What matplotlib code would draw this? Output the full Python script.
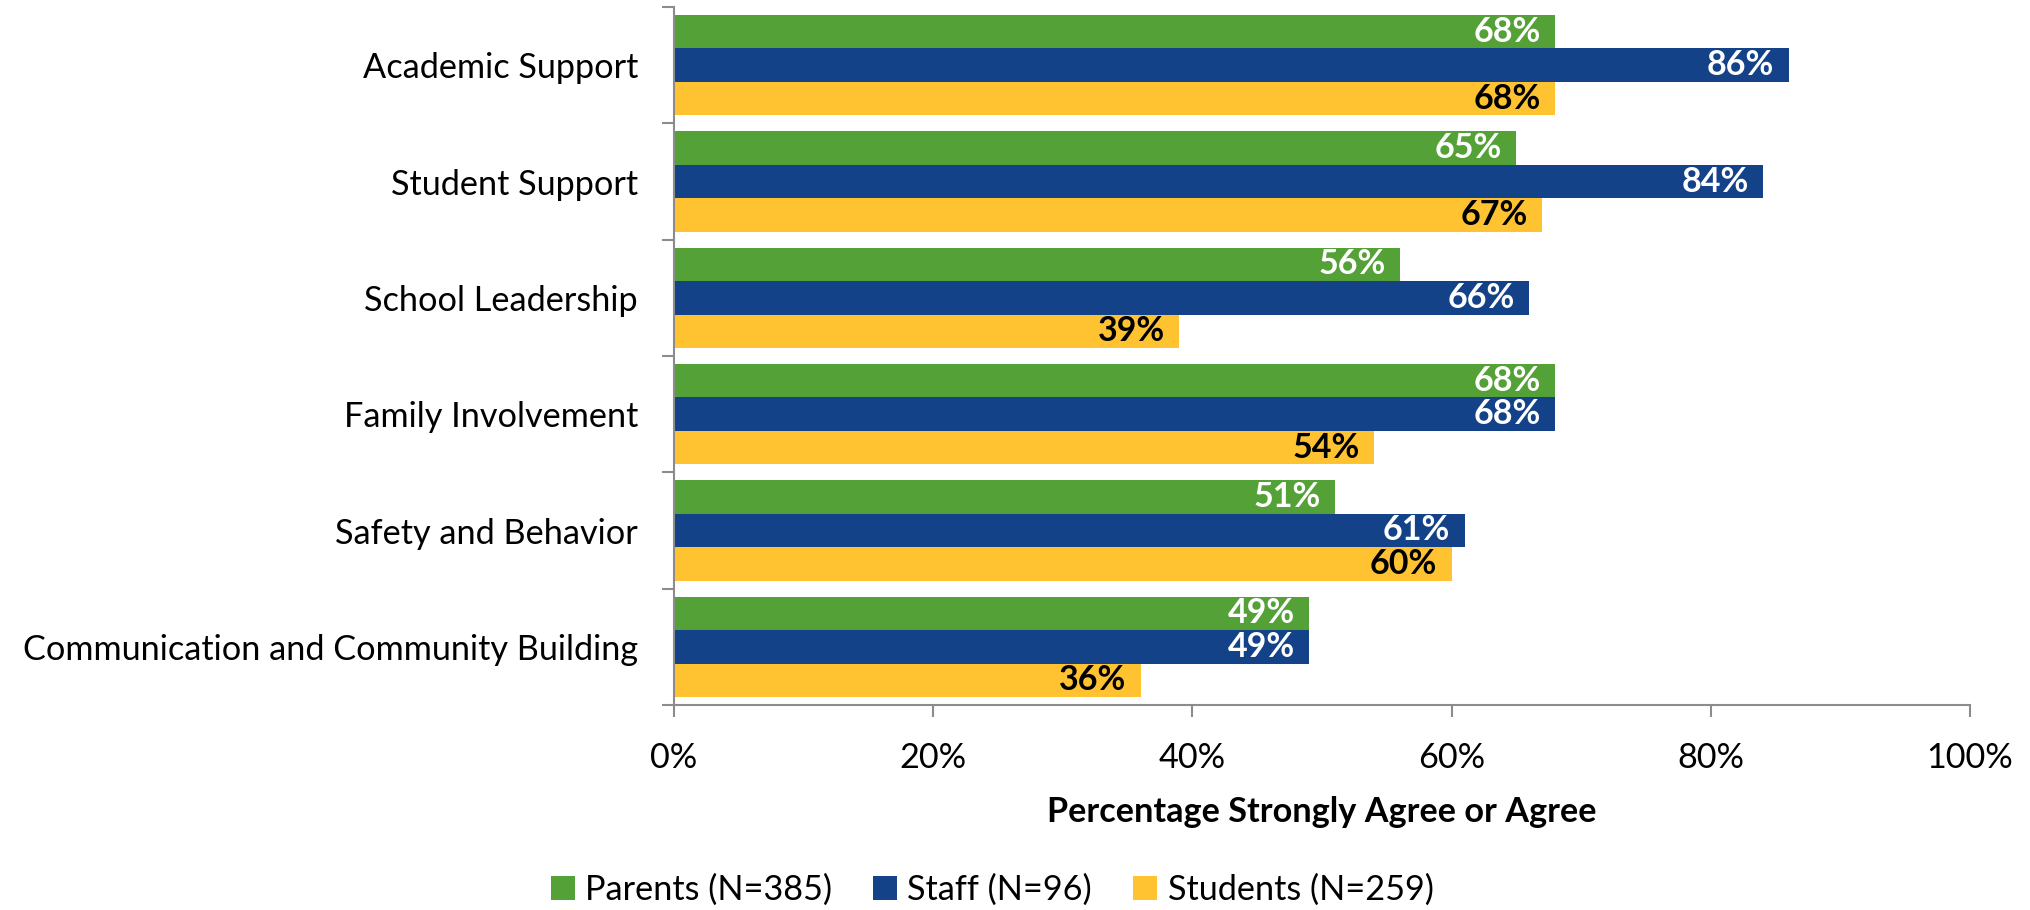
import matplotlib
matplotlib.use("Agg")
import matplotlib.pyplot as plt
import numpy as np
from matplotlib.patches import Patch

plt.rcParams['font.family'] = ['Lato', 'DejaVu Sans']

categories = ["Academic Support", "Student Support", "School Leadership",
              "Family Involvement", "Safety and Behavior",
              "Communication and Community Building"]
parents = [68, 65, 56, 68, 51, 49]
staff = [86, 84, 66, 68, 61, 49]
students = [68, 67, 39, 54, 60, 36]
series_names = ["Parents (N=385)", "Staff (N=96)", "Students (N=259)"]
xticks = [0, 20, 40, 60, 80, 100]
xlabel = "Percentage Strongly Agree or Agree"

colors = ["#54A137", "#134289", "#FFC332"]
label_colors = ["white", "white", "black"]

fig = plt.figure(figsize=(20.3, 9.1), dpi=100)
ax = fig.add_axes([674/2030, 1-705/910, (1970-674)/2030, (705-7)/910])

n = len(categories)
y = np.arange(n)
bh = 0.86/3
fs = 24.7
dfs = 24.5

for i, (vals, c, lc) in enumerate(zip([parents, staff, students], colors, label_colors)):
    pos = y - bh + i*bh
    bars = ax.barh(pos, vals, height=bh, color=c, edgecolor='none')
    for b, v in zip(bars, vals):
        ax.text(v - 1.1, b.get_y() + b.get_height()/2, f"{v}%", ha='right', va='center',
                color=lc, fontsize=dfs, fontweight='bold')

ax.set_xlim(0, 100)
ax.set_ylim(n - 0.5, -0.5)
ax.set_yticks(y)
ax.set_yticklabels(categories, fontsize=fs)
ax.set_yticks(np.arange(n + 1) - 0.5, minor=True)
ax.tick_params(axis='y', which='major', length=0, pad=26)
ax.tick_params(axis='y', which='minor', length=8.6, width=1.5, color='#8C8C8C', direction='out')
ax.set_xticks(xticks)
ax.set_xticklabels([f"{t}%" for t in xticks], fontsize=fs)
ax.tick_params(axis='x', which='major', length=8.6, width=1.5, color='#8C8C8C', pad=18)
ax.set_xlabel(xlabel, fontsize=fs, fontweight='bold', labelpad=16)

for s in ['top', 'right']:
    ax.spines[s].set_visible(False)
for s in ['left', 'bottom']:
    ax.spines[s].set_color('#8C8C8C')
    ax.spines[s].set_linewidth(1.5)

handles = [Patch(facecolor=c, edgecolor='none') for c in colors]
fig.legend(handles, series_names, loc='center', bbox_to_anchor=(992/2030, 1-890/910),
           ncol=3, frameon=False, fontsize=fs, handlelength=0.7, handleheight=0.7,
           handletextpad=0.3, columnspacing=1.2)

fig.savefig("out.png", dpi=100)
